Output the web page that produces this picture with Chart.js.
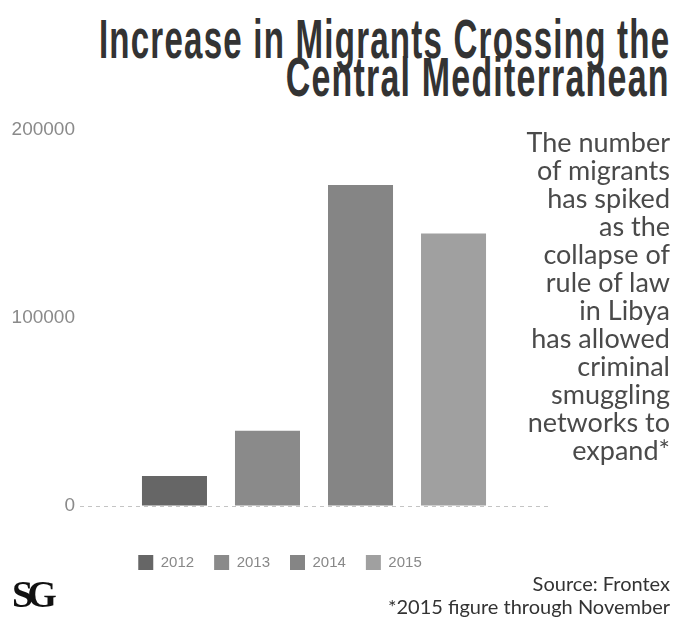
<!DOCTYPE html>
<html>
<head>
<meta charset="utf-8">
<script src="https://cdn.jsdelivr.net/npm/chart.js@4.4.0/dist/chart.umd.min.js"></script>
<style>
  body { margin: 0; background: #fff; width: 683px; height: 620px; overflow: hidden; position: relative; }
  #chart { position: absolute; left: 0; top: 0; }
  .tl { position: absolute; right: 13px; font-family: "Liberation Sans", Arial, sans-serif; letter-spacing: 2px;
        font-weight: bold; color: #333; font-size: 55px; line-height: 55px; white-space: nowrap; transform-origin: right top; }
  #note { position: absolute; right: 13px; top: 128px; font-family: Lato, sans-serif; font-size: 27px; line-height: 28px;
          color: #4a4a4a; text-align: right; }
  #foot { position: absolute; right: 13px; top: 572px; font-family: Lato, sans-serif; font-size: 20px; line-height: 23px;
          color: #333; text-align: right; }
  #logo { position: absolute; left: 12px; top: 572px; font-family: "Liberation Serif", serif; font-weight: bold;
          font-size: 38px; letter-spacing: -6px; color: #111; }
</style>
</head>
<body>
<div class="tl" id="t1" style="top:12px">Increase in Migrants Crossing the</div>
<div class="tl" id="t2" style="top:50px">Central Mediterranean</div>
<canvas id="chart" width="560" height="590"></canvas>
<div id="note">The number<br>of migrants<br>has spiked<br>as the<br>collapse of<br>rule of law<br>in Libya<br>has allowed<br>criminal<br>smuggling<br>networks to<br>expand*</div>
<div id="logo">SG</div>
<div id="foot">Source: Frontex<br>*2015 figure through November</div>
<script>
// data
var years = ['2012', '2013', '2014', '2015'];
var migrants = [16000, 40000, 170700, 145000];
var barColors = ['#666666', '#8a8a8a', '#858585', '#a0a0a0'];
var yTicks = [0, 100000, 200000];

// squeeze title lines to the width they have in the picture
function fit(id, w) {
  var el = document.getElementById(id);
  el.style.transform = 'scaleX(' + (w / (el.offsetWidth - 2)) + ')';
}
fit('t1', 570);
fit('t2', 383);

Chart.defaults.font.family = '"Liberation Sans", Arial, sans-serif';

var ctx = document.getElementById('chart').getContext('2d');
var myChart = new Chart(ctx, {
  type: 'bar',
  data: {
    labels: [''],
    datasets: years.map(function(y, i) {
      return { label: y, data: [migrants[i]], backgroundColor: barColors[i], borderWidth: 0 };
    })
  },
  options: {
    responsive: false,
    animation: false,
    datasets: { bar: { categoryPercentage: 0.795, barPercentage: 0.699 } },
    layout: { padding: { left: 12, right: 12, top: 130, bottom: 10 } },
    plugins: {
      tooltip: { enabled: false },
      legend: {
        position: 'bottom',
        labels: { boxWidth: 15, boxHeight: 15, padding: 20, color: '#888', font: { size: 15 } }
      }
    },
    scales: {
      x: {
        grid: { display: false },
        border: { display: false },
        ticks: { display: false },
        afterFit: function(s) { s.height = 29; }
      },
      y: {
        min: 0,
        max: 200000,
        afterBuildTicks: function(s) { s.ticks = yTicks.map(function(v) { return { value: v }; }); },
        afterFit: function(s) { s.width = 68; },
        ticks: { color: '#8a8a8a', padding: 5, font: { size: 19 }, callback: function(v) { return String(v); } },
        grid: {
          drawTicks: false,
          color: function(c) { return c.tick && c.tick.value === 0 ? '#c4c4c4' : 'rgba(0,0,0,0)'; }
        },
        border: { display: false, dash: [4, 4] }
      }
    }
  }
});
</script>
</body>
</html>
